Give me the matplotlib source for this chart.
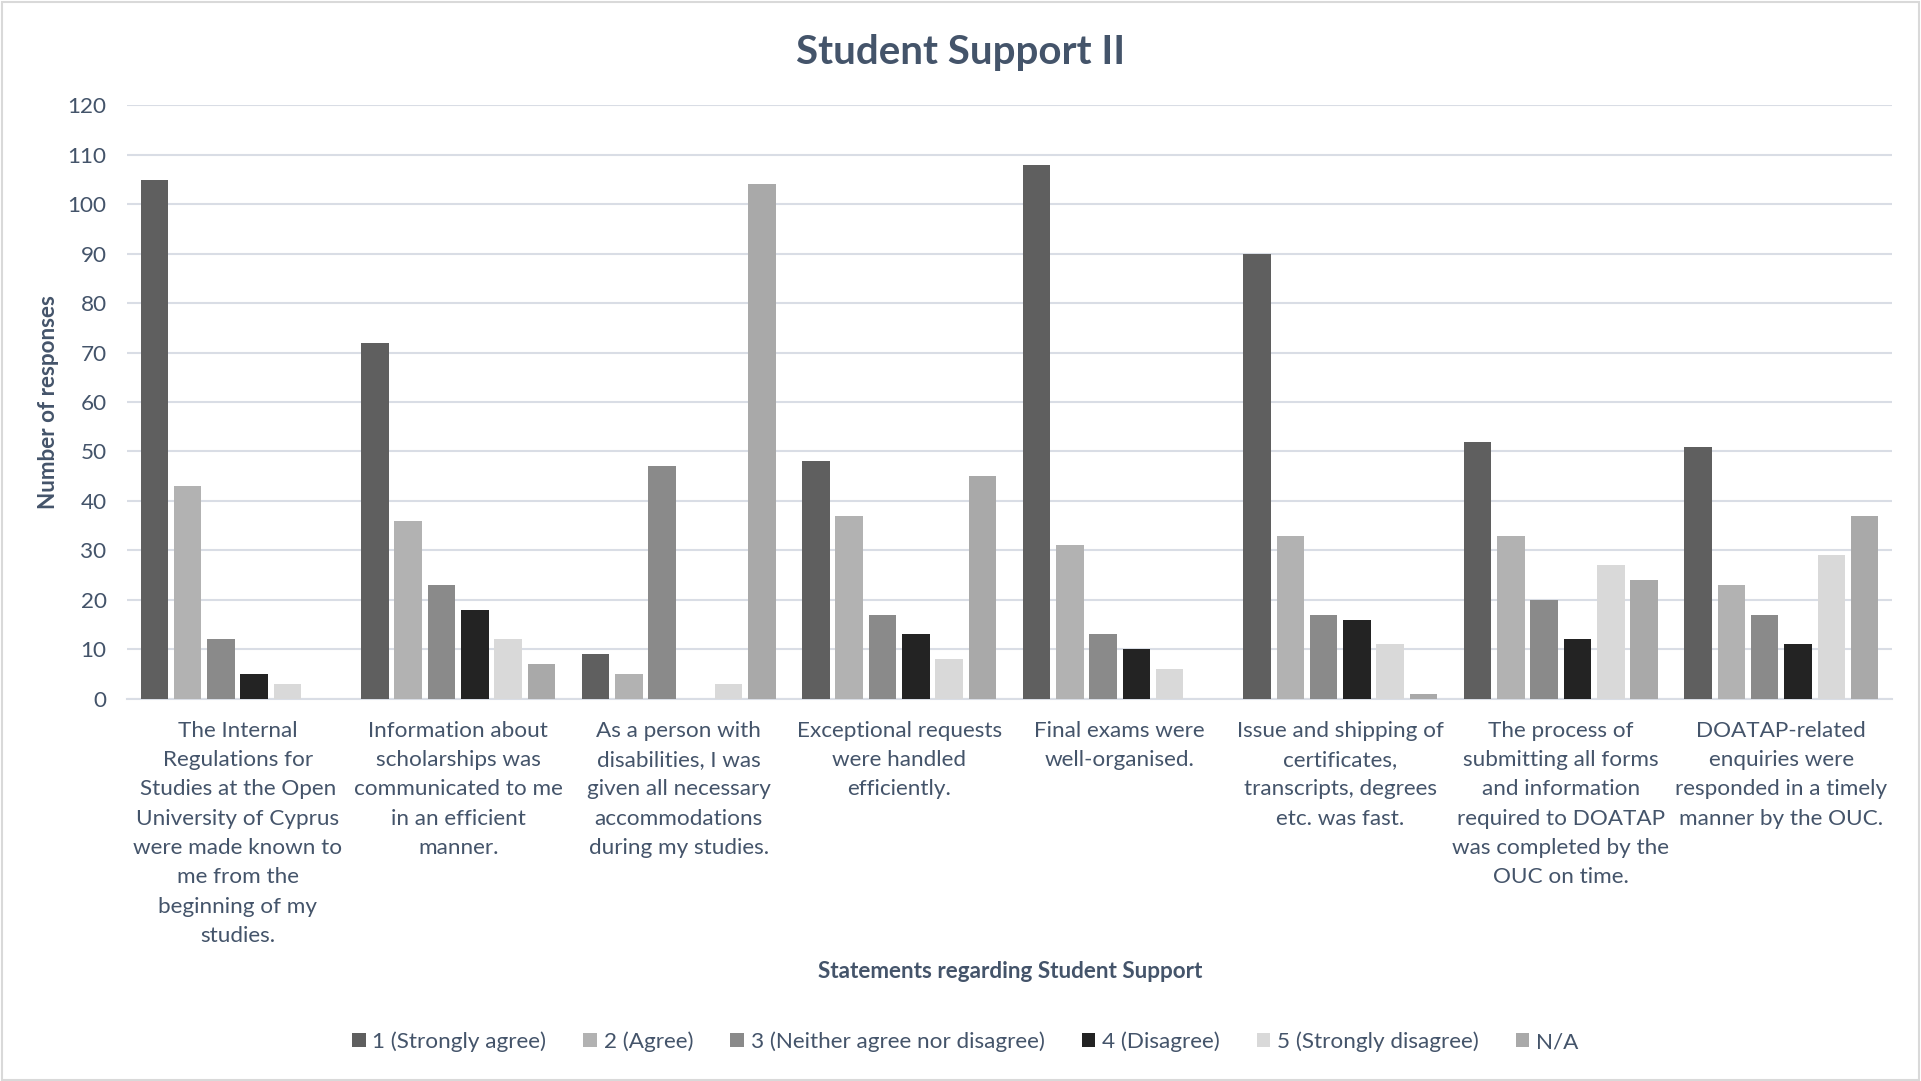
import matplotlib.pyplot as plt
import numpy as np
from matplotlib.patches import Rectangle

plt.rcParams['font.family'] = ['Lato', 'DejaVu Sans']

# statements on the x axis
statements = [
    'The Internal\nRegulations for\nStudies at the Open\nUniversity of Cyprus\nwere made known to\nme from the\nbeginning of my\nstudies.',
    'Information about\nscholarships was\ncommunicated to me\nin an efficient\nmanner.',
    'As a person with\ndisabilities, I was\ngiven all necessary\naccommodations\nduring my studies.',
    'Exceptional requests\nwere handled\nefficiently.',
    'Final exams were\nwell-organised.',
    'Issue and shipping of\ncertificates,\ntranscripts, degrees\netc. was fast.',
    'The process of\nsubmitting all forms\nand information\nrequired to DOATAP\nwas completed by the\nOUC on time.',
    'DOATAP-related\nenquiries were\nresponded in a timely\nmanner by the OUC.',
]

answers = ['1 (Strongly agree)', '2 (Agree)', '3 (Neither agree nor disagree)',
           '4 (Disagree)', '5 (Strongly disagree)', 'N/A']

# number of responses per answer, one value per statement
strongly_agree    = [105, 72, 9, 48, 108, 90, 52, 51]
agree             = [43, 36, 5, 37, 31, 33, 33, 23]
neither           = [12, 23, 47, 17, 13, 17, 20, 17]
disagree          = [5, 18, 0, 13, 10, 16, 12, 11]
strongly_disagree = [3, 12, 3, 8, 6, 11, 27, 29]
not_applicable    = [0, 7, 104, 45, 0, 1, 24, 37]

series = [strongly_agree, agree, neither, disagree, strongly_disagree, not_applicable]
colors = ['#5f5f5f', '#b2b2b2', '#8a8a8a', '#232323', '#d9d9d9', '#a9a9a9']

text_col = '#44546a'
grid_col = '#d9dde5'
fs = 16.2

fig = plt.figure(figsize=(19.21, 10.81), dpi=100)
ax = fig.add_axes([0.0663, 0.3537, 0.9184, 0.5488])

x = np.arange(len(statements))
pitch = 0.151
width = 0.125
for i, (vals, c) in enumerate(zip(series, colors)):
    offs = (i - 2.5) * pitch
    ax.bar(x + offs, vals, width=width, color=c, label=answers[i], zorder=3)

ax.set_xlim(-0.5, len(statements) - 0.5)
ax.set_ylim(0, 120)
ax.set_yticks(np.arange(0, 121, 10))
ax.yaxis.grid(True, color=grid_col, linewidth=1.5, zorder=0)
ax.set_axisbelow(True)
for s in ['top', 'right', 'left']:
    ax.spines[s].set_visible(False)
ax.spines['bottom'].set_color(grid_col)
ax.spines['bottom'].set_linewidth(1.5)
ax.tick_params(axis='both', length=0, colors=text_col, labelsize=fs)
ax.tick_params(axis='y', pad=15)
ax.tick_params(axis='x', pad=16)
ax.set_xticks(x)
ax.set_xticklabels(statements, linespacing=1.58, va='top')

fig.text(0.0255, 0.628, 'Number of responses', rotation=90, ha='center', va='center',
         fontsize=fs, fontweight='bold', color=text_col)
fig.text(0.526, 0.1009, 'Statements regarding Student Support', ha='center', va='center',
         fontsize=fs, fontweight='bold', color=text_col)
fig.text(0.5, 0.9516, 'Student Support II', ha='center', va='center',
         fontsize=29, fontweight='bold', color=text_col)

fig.legend(loc='center', bbox_to_anchor=(0.5025, 0.0363), ncol=6, frameon=False,
           fontsize=fs, handlelength=0.6, handleheight=0.6, handletextpad=0.3,
           columnspacing=1.65, labelcolor=text_col)

# thin border around the whole chart
fig.patches.append(Rectangle((0.001, 0.001), 0.998, 0.997, transform=fig.transFigure,
                             fill=False, edgecolor='#d9d9d9', linewidth=1.5))

fig.savefig('out.png', dpi=100)
